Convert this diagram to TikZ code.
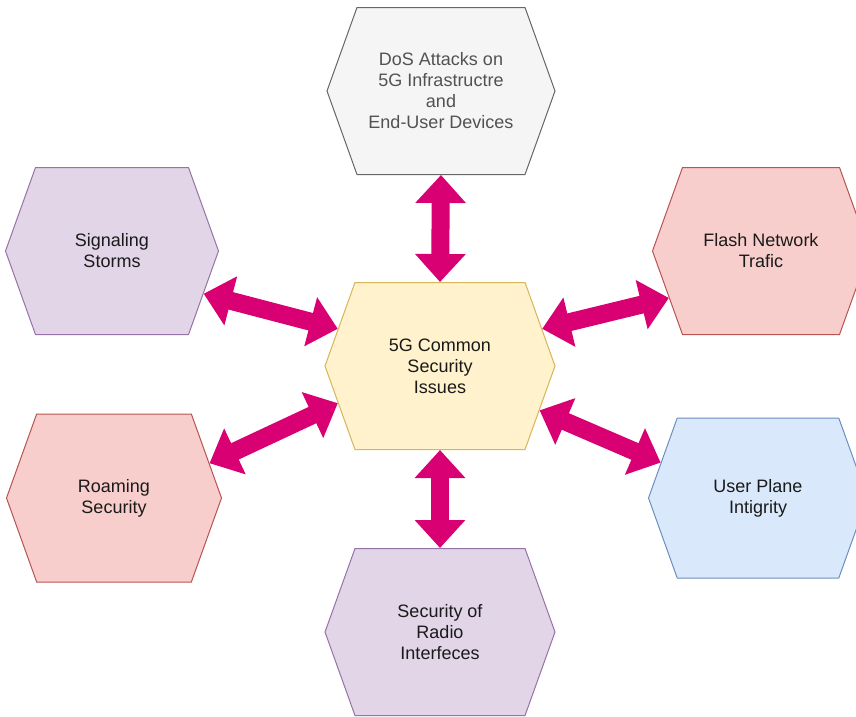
\documentclass[tikz,border=0pt]{standalone}
\usepackage{fontspec}
\setmainfont{Liberation Sans}
\usetikzlibrary{arrows.meta,shapes.symbols}
\definecolor{greyfill}{HTML}{F5F5F5}
\definecolor{greyline}{HTML}{666666}
\definecolor{yellowfill}{HTML}{FFF2CC}
\definecolor{yellowline}{HTML}{D6B656}
\definecolor{purplefill}{HTML}{E1D5E7}
\definecolor{purpleline}{HTML}{9673A6}
\definecolor{redfill}{HTML}{F8CECC}
\definecolor{redline}{HTML}{B85450}
\definecolor{bluefill}{HTML}{DAE8FC}
\definecolor{blueline}{HTML}{6C8EBF}
\definecolor{linkc}{HTML}{D80073}
\definecolor{ink}{HTML}{1A1A1A}
\tikzset{
  hexa/.style={shape=signal,signal to=east and west,signal pointer angle=140.5,
    draw=#1line,fill=#1fill,line width=1pt,
    minimum width=228pt,minimum height=167pt,inner sep=0pt,align=center,text=ink},
  hexa/.default=grey,
  link/.style={{Triangle[length=28pt,width=49pt]}-{Triangle[length=28pt,width=49pt]},
    line width=18pt,draw=linkc},
}

\begin{document}
\begin{tikzpicture}[x=1pt,y=-1pt,font=\fontsize{18pt}{21pt}\selectfont]
  \useasboundingbox (0,0) rectangle (856,716);

  \node[hexa,text=greyline!80!black] (dos) at (441,91) {DoS Attacks on\\5G Infrastructre\\and\\End-User Devices};
  \node[hexa=yellow,minimum width=230pt] (core) at (440,366) {5G Common\\Security\\Issues};
  \node[hexa=purple,minimum width=213pt] (sig) at (112,251) {Signaling\\Storms};
  \node[hexa=red,minimum width=217pt] (flash) at (761,251) {Flash Network\\Trafic};
  \node[hexa=red,minimum width=215pt,minimum height=168pt] (roam) at (114,498) {Roaming\\Security};
  \node[hexa=blue,minimum width=219pt,minimum height=160pt] (user) at (758,498) {User Plane\\Intigrity};
  \node[hexa=purple,minimum width=230pt] (radio) at (440,632) {Security of\\Radio\\Interfeces};

  \draw[link] (core.north) -- (dos.south);
  \draw[link] (core.south) -- (radio.north);
  \draw[link] (core.160) -- (sig.-25);
  \draw[link] (core.20) -- (flash.-153);
  \draw[link] (core.200) -- (roam.20);
  \draw[link] (core.-24) -- (user.160);
\end{tikzpicture}
\end{document}
